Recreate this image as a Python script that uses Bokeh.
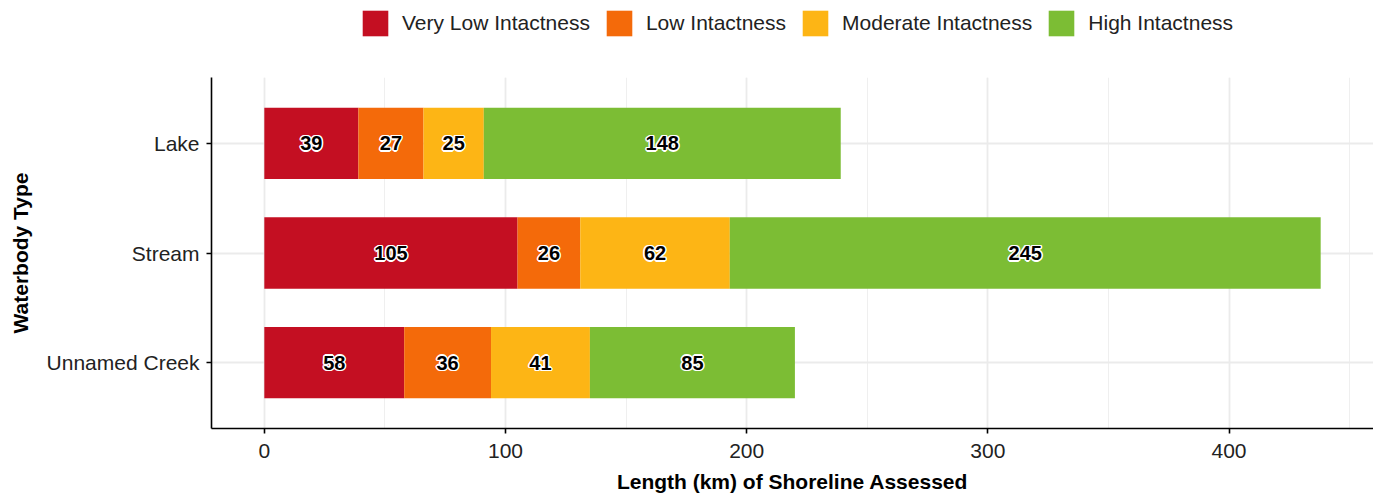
import numpy as np
from bokeh.plotting import figure
from bokeh.layouts import column
from bokeh.models import ColumnDataSource, Range1d, FixedTicker, SingleIntervalTicker, Legend, LegendItem
from bokeh.embed import file_html
from bokeh.resources import INLINE
from bokeh.core.properties import value

categories = ["Lake", "Stream", "Unnamed Creek"]
levels = ["Very Low Intactness", "Low Intactness", "Moderate Intactness", "High Intactness"]
very_low = [39, 105, 58]
low = [27, 26, 36]
moderate = [25, 62, 41]
high = [148, 245, 85]
colors = ["#C40F22", "#F46A0A", "#FDB515", "#7CBD34"]
x_ticks = [0, 100, 200, 300, 400]

series = [very_low, low, moderate, high]
n = len(categories)
ypos = [n - i for i in range(n)]  # first category on top

FONT = "Liberation Sans"
W = 1373

totals = np.sum(np.array(series), axis=0)
xmax = float(totals.max())
pad = 0.05 * xmax

# ---- legend strip ----
pl = figure(width=W, height=60, output_backend="svg", toolbar_location=None,
            x_axis_type=None, y_axis_type=None, x_range=Range1d(0, 1), y_range=Range1d(0, 1),
            min_border=0)
pl.outline_line_color = None
pl.xgrid.visible = False
pl.ygrid.visible = False
litems = []
for lvl, col in zip(levels, colors):
    # glyph kept outside the visible range; only its legend swatch is shown
    r = pl.hbar(y=[-10], left=[0], right=[1], height=0.5, fill_color=col, line_color=None)
    litems.append(LegendItem(label=lvl, renderers=[r]))
legend = Legend(items=litems, orientation="horizontal", location=(148, 21),
                padding=0, margin=0, spacing=13, label_standoff=11,
                glyph_width=32, glyph_height=32,
                label_text_font=FONT, label_text_font_size="21px", label_text_color="#222222",
                border_line_color=None, background_fill_alpha=0)
pl.add_layout(legend, "center")

# ---- main chart ----
p = figure(width=W, height=438, output_backend="svg", toolbar_location=None,
           x_range=Range1d(-pad, xmax + pad), y_range=Range1d(0.4, n + 0.6),
           min_border_left=211, min_border_right=0, min_border_top=17, min_border_bottom=70)
p.outline_line_color = None
p.background_fill_color = "white"

left = np.zeros(n)
halo = [(-1.5, 0), (1.5, 0), (0, -1.5), (0, 1.5), (-1.1, -1.1), (1.1, -1.1), (-1.1, 1.1), (1.1, 1.1)]
for lvl, vals, col in zip(levels, series, colors):
    vals = np.array(vals, dtype=float)
    src = ColumnDataSource(dict(y=ypos, left=left, right=left + vals,
                                mid=left + vals / 2, lab=[str(int(v)) for v in vals]))
    p.hbar(y="y", left="left", right="right", height=0.65, source=src,
           fill_color=col, line_color=None)
    for dx, dy in halo:
        p.text(x="mid", y="y", text="lab", source=src, text_align="center", text_baseline="middle",
               text_font=value(FONT), text_font_size="20px", text_font_style="bold",
               text_color="white", x_offset=dx, y_offset=dy)
    p.text(x="mid", y="y", text="lab", source=src, text_align="center", text_baseline="middle",
           text_font=value(FONT), text_font_size="20px", text_font_style="bold",
           text_color="black")
    left = left + vals

# axes
p.xaxis.ticker = SingleIntervalTicker(interval=100, num_minor_ticks=2)
p.yaxis.ticker = FixedTicker(ticks=ypos)
p.yaxis.major_label_overrides = {y: c for y, c in zip(ypos, categories)}
for ax in (p.xaxis, p.yaxis):
    ax.axis_line_color = "black"
    ax.axis_line_width = 1.6
    ax.major_tick_line_color = "black"
    ax.major_tick_line_width = 1.6
    ax.major_tick_out = 5
    ax.major_tick_in = 0
    ax.minor_tick_line_color = None
    ax.major_label_text_font = FONT
    ax.major_label_text_font_size = "21px"
    ax.major_label_text_color = "#222222"
    ax.axis_label_text_font = FONT
    ax.axis_label_text_font_size = "21px"
    ax.axis_label_text_font_style = "bold"
    ax.axis_label_text_color = "black"
p.xaxis.axis_label = "Length (km) of Shoreline Assessed"
p.yaxis.axis_label = "Waterbody Type"
p.xaxis.major_label_standoff = 10
p.xaxis.axis_label_standoff = 9
p.yaxis.major_label_standoff = 7
p.yaxis.axis_label_standoff = 12

p.xgrid.grid_line_color = "#EBEBEB"
p.xgrid.grid_line_width = 1.8
p.xgrid.minor_grid_line_color = "#EFEFEF"
p.xgrid.minor_grid_line_width = 1.0
p.ygrid.grid_line_color = "#EBEBEB"
p.ygrid.grid_line_width = 1.8

layout = column(pl, p, spacing=0)
open("out.html", "w").write(file_html(layout, INLINE))
